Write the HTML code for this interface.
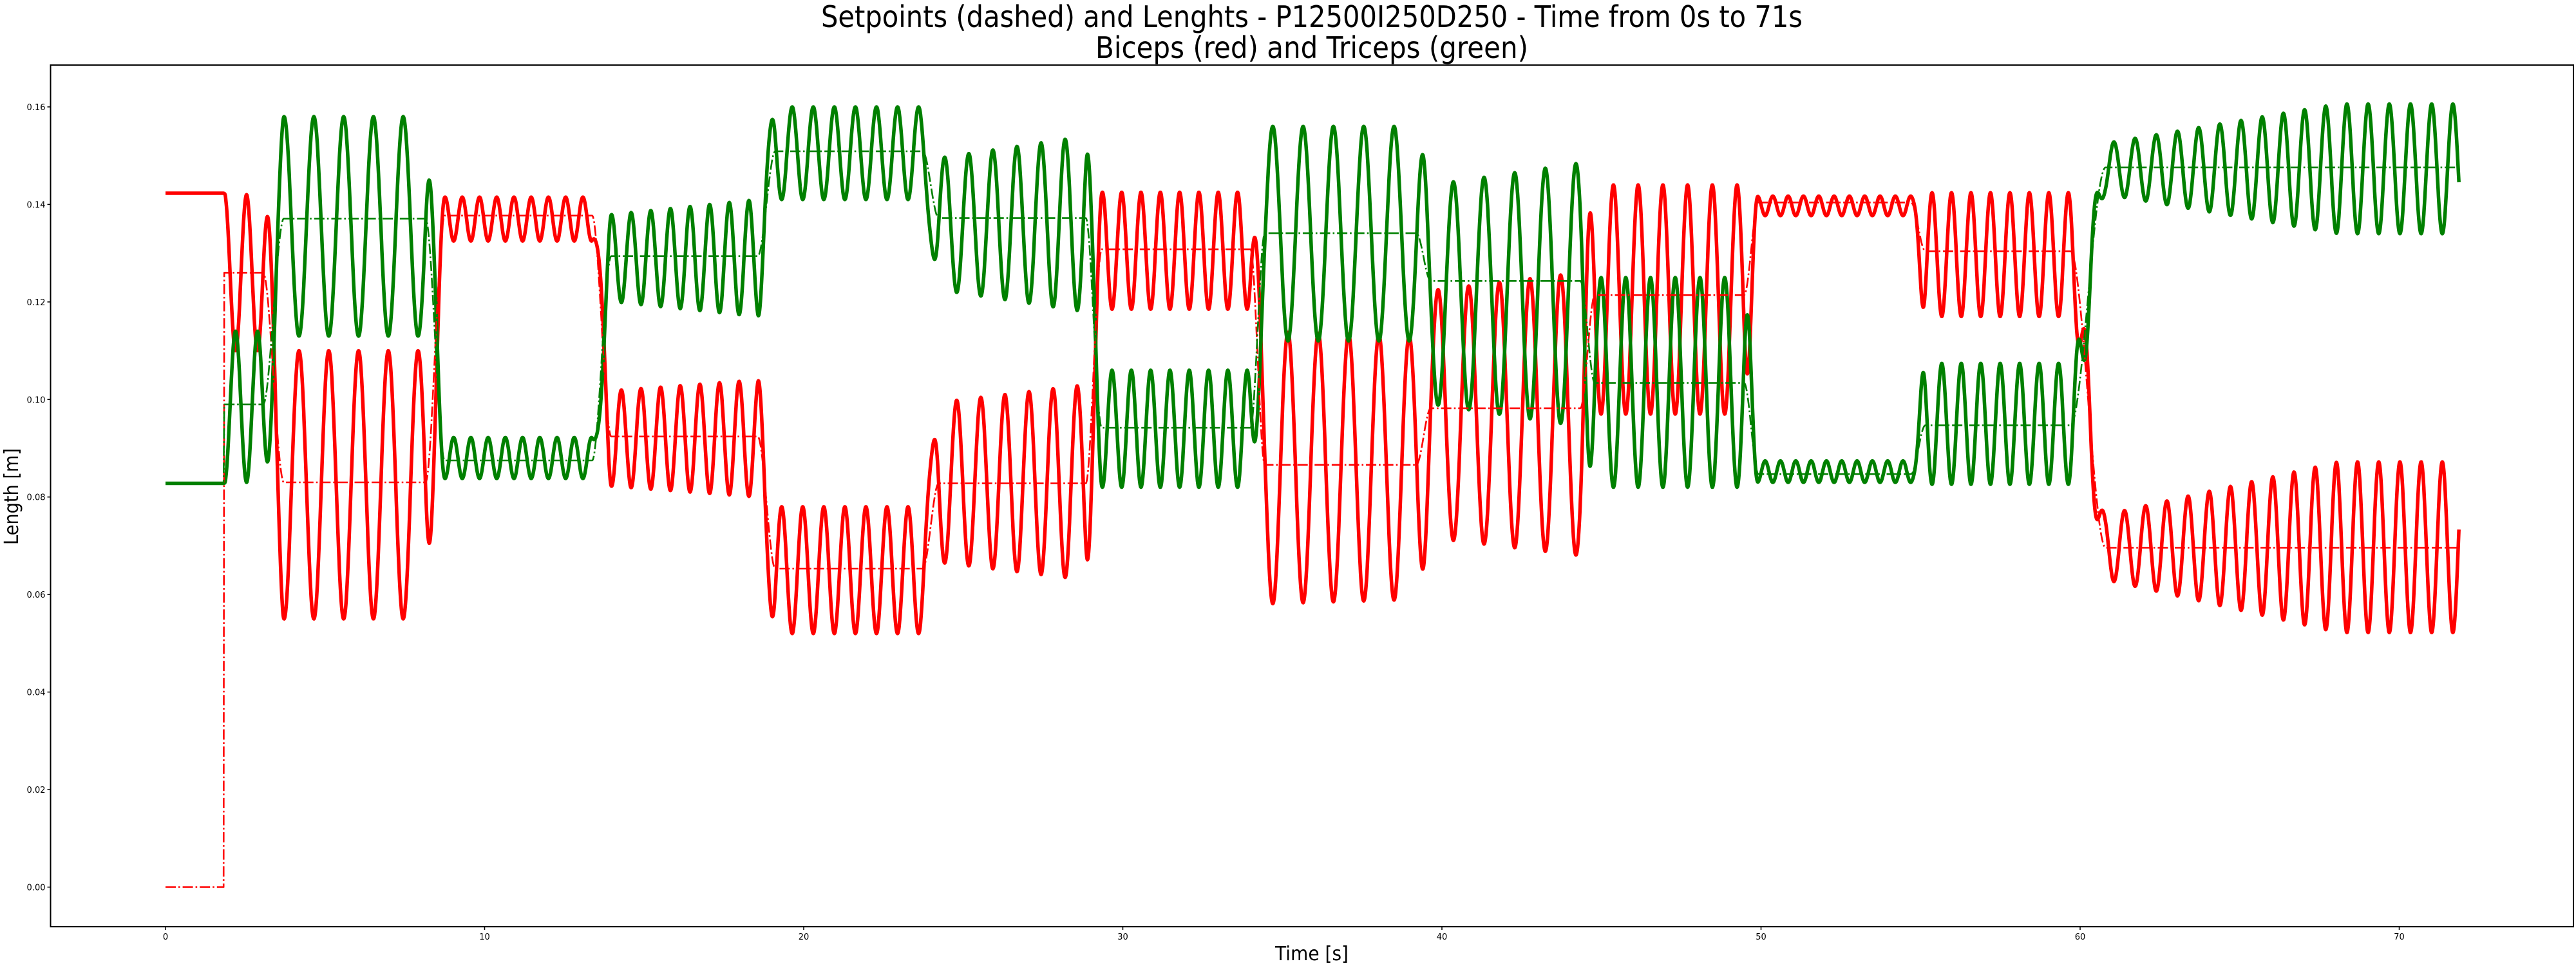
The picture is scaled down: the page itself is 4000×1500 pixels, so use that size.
<!DOCTYPE html>
<html>
<head>
<meta charset="utf-8">
<style>
  html, body { margin: 0; padding: 0; background: #ffffff; }
  svg { display: block; }
  text { font-family: "DejaVu Sans", "Liberation Sans", sans-serif; fill: #000; }
</style>
</head>
<body>
<svg id="chart" width="4000" height="1500" viewBox="0 0 4000 1500" xmlns="http://www.w3.org/2000/svg">
  <rect x="0" y="0" width="4000" height="1500" fill="#ffffff"/>
  <text x="2037" y="42" font-size="46" text-anchor="middle" textLength="1524" lengthAdjust="spacingAndGlyphs">Setpoints (dashed) and Lenghts - P12500I250D250 - Time from 0s to 71s</text>
  <text x="2037" y="90" font-size="46" text-anchor="middle" textLength="672" lengthAdjust="spacingAndGlyphs">Biceps (red) and Triceps (green)</text>
  <g id="plot"></g>
  <g id="axes"></g>
  <text x="2037" y="1491" font-size="30" text-anchor="middle" textLength="114" lengthAdjust="spacingAndGlyphs">Time [s]</text>
  <text x="0" y="0" font-size="30" text-anchor="middle" textLength="150" lengthAdjust="spacingAndGlyphs" transform="translate(28,771) rotate(-90)">Length [m]</text>
</svg>
<script>
// ---- data (segments) ----
var segStart   = [0, 1.82, 3.06, 8.15, 13.37, 18.56, 23.73, 28.84, 34.0, 39.2, 44.34, 49.47, 54.7, 59.7];
var tEnd = 71.87;
var rampDur    = [0.01, 0.02, 0.65, 0.6, 0.6, 0.55, 0.5, 0.5, 0.45, 0.45, 0.45, 0.45, 0.45, 1.1];
var redSetpoint   = [0, 0.126, 0.083, 0.1377, 0.0924, 0.0653, 0.0828, 0.1308, 0.0866, 0.0982, 0.1214, 0.1404, 0.1304, 0.0696];
var greenSetpoint = [0.0828, 0.099, 0.1371, 0.0875, 0.1294, 0.1509, 0.1372, 0.0942, 0.1341, 0.1243, 0.1034, 0.0847, 0.0947, 0.1476];
var redCenter   = [0.1423, 0.126, 0.0825, 0.137, 0.092, 0.065, 0.083, 0.1305, 0.086, 0.097, 0.1205, 0.1397, 0.1297, 0.0697];
var greenCenter = [0.0828, 0.0985, 0.1355, 0.088, 0.129, 0.1505, 0.136, 0.094, 0.134, 0.1215, 0.1035, 0.0852, 0.095, 0.1473];
var redAmpStart   = [0, 0.016, 0.0275, 0.0045, 0.0095, 0.013, 0.016, 0.012, 0.028, 0.025, 0.0235, 0.002, 0.0127, 0.005];
var redAmpEnd     = [0, 0.016, 0.0275, 0.0045, 0.012, 0.013, 0.020, 0.012, 0.027, 0.029, 0.0235, 0.002, 0.0127, 0.0175];
var greenAmpStart = [0, 0.0155, 0.0225, 0.0042, 0.0085, 0.0095, 0.013, 0.012, 0.022, 0.022, 0.0215, 0.0022, 0.0124, 0.004];
var greenAmpEnd   = [0, 0.0155, 0.0225, 0.0042, 0.012, 0.0095, 0.018, 0.012, 0.022, 0.027, 0.0215, 0.0022, 0.0124, 0.0133];
var ampGrowEnd    = [1.82, 3.06, 8.15, 13.37, 18.56, 23.73, 28.84, 34.0, 39.2, 44.34, 49.47, 54.7, 59.7, 68.1];
var period     = [1, 0.69, 0.933, 0.54, 0.615, 0.66, 0.755, 0.605, 0.95, 0.96, 0.775, 0.48, 0.61, 0.664];
var redPeakTime = [0, 1.85, 3.25, 9.3, 13.67, 18.65, 24.04, 29.36, 34.225, 38.92, 44.6, 50.37, 55.97, 61.39];
var xTicks = [0, 10, 20, 30, 40, 50, 60, 70];
var yTicks = [0.00, 0.02, 0.04, 0.06, 0.08, 0.10, 0.12, 0.14, 0.16];
var yTickLabels = ["0.00", "0.02", "0.04", "0.06", "0.08", "0.10", "0.12", "0.14", "0.16"];

// ---- axes ----
var PL = 78.5, PR = 3996, PT = 101, PB = 1439;
function xs(t) { return 257 + t * 49.55; }
function ys(v) { return 1377.5 - v * 7572; }

var NS = "http://www.w3.org/2000/svg";
var plot = document.getElementById('plot');
var axes = document.getElementById('axes');

function segIndex(t) {
  var i = 0;
  for (var k = 0; k < segStart.length; k++) if (t >= segStart[k]) i = k;
  return i;
}
function smooth(u) { u = Math.max(0, Math.min(1, u)); return u * u * (3 - 2 * u); }
function ramped(arr, t) {
  var i = segIndex(t);
  if (i === 0) return arr[0];
  var u = (t - segStart[i]) / rampDur[i];
  return arr[i - 1] + (arr[i] - arr[i - 1]) * smooth(u);
}
// wave of segment k evaluated at time t
function wave(k, centers, aS, aE, sign, t) {
  var span = ampGrowEnd[k] - segStart[k];
  var f = span > 0 ? Math.max(0, Math.min(1, (t - segStart[k]) / span)) : 1;
  var a = aS[k] + (aE[k] - aS[k]) * f;
  return centers[k] + sign * a * Math.cos(2 * Math.PI * (t - redPeakTime[k]) / period[k]);
}
function measured(centers, aS, aE, sign, t) {
  var i = segIndex(t);
  var cur = wave(i, centers, aS, aE, sign, t);
  if (i === 0) return cur;
  var blend = Math.max(rampDur[i], 0.08);
  var u = (t - segStart[i]) / blend;
  if (u >= 1) return cur;
  var prev = wave(i - 1, centers, aS, aE, sign, t);
  var w = smooth(u);
  return prev * (1 - w) + cur * w;
}
function buildPath(fn) {
  var d = '', dt = 0.01, n = Math.round(tEnd / dt);
  for (var k = 0; k <= n; k++) {
    var t = k * dt;
    d += (k === 0 ? 'M' : 'L') + xs(t).toFixed(1) + ',' + ys(fn(t)).toFixed(1);
  }
  return d;
}
function addPath(name, d, color, width, dash) {
  var p = document.createElementNS(NS, 'path');
  
  
  p.setAttribute('d', d);
  p.setAttribute('fill', 'none');
  p.setAttribute('stroke', color);
  p.setAttribute('stroke-width', width);
  p.setAttribute('stroke-linejoin', 'round');
  if (dash) p.setAttribute('stroke-dasharray', dash);
  plot.appendChild(p);
}

addPath('biceps-length-line', buildPath(function (t) { return measured(redCenter, redAmpStart, redAmpEnd, 1, t); }), '#ff0000', 5.5, null);
addPath('triceps-length-line', buildPath(function (t) { return measured(greenCenter, greenAmpStart, greenAmpEnd, -1, t); }), '#008000', 5.5, null);
addPath('biceps-setpoint-line', buildPath(function (t) { return ramped(redSetpoint, t); }), '#ff0000', 2.6, '16 4 2.6 4');
addPath('triceps-setpoint-line', buildPath(function (t) { return ramped(greenSetpoint, t); }), '#008000', 2.6, '16 4 2.6 4');

// frame
var frame = document.createElementNS(NS, 'rect');


frame.setAttribute('x', PL); frame.setAttribute('y', PT);
frame.setAttribute('width', PR - PL); frame.setAttribute('height', PB - PT);
frame.setAttribute('fill', 'none'); frame.setAttribute('stroke', '#000'); frame.setAttribute('stroke-width', '2');
axes.appendChild(frame);

xTicks.forEach(function (v) {
  var x = xs(v);
  var l = document.createElementNS(NS, 'line');
  
  
  l.setAttribute('x1', x); l.setAttribute('x2', x);
  l.setAttribute('y1', PB); l.setAttribute('y2', PB + 5);
  l.setAttribute('stroke', '#000'); l.setAttribute('stroke-width', '1.5');
  axes.appendChild(l);
  var tx = document.createElementNS(NS, 'text');
  
  
  tx.setAttribute('x', x); tx.setAttribute('y', 1459);
  tx.setAttribute('font-size', '13'); tx.setAttribute('text-anchor', 'middle');
  tx.textContent = String(v);
  axes.appendChild(tx);
});
yTicks.forEach(function (v, i) {
  var y = ys(v);
  var l = document.createElementNS(NS, 'line');
  
  
  l.setAttribute('x1', PL - 5); l.setAttribute('x2', PL);
  l.setAttribute('y1', y); l.setAttribute('y2', y);
  l.setAttribute('stroke', '#000'); l.setAttribute('stroke-width', '1.5');
  axes.appendChild(l);
  var tx = document.createElementNS(NS, 'text');
  
  
  tx.setAttribute('x', PL - 8); tx.setAttribute('y', y + 5);
  tx.setAttribute('font-size', '13'); tx.setAttribute('text-anchor', 'end');
  tx.textContent = yTickLabels[i];
  axes.appendChild(tx);
});
</script>
</body>
</html>
